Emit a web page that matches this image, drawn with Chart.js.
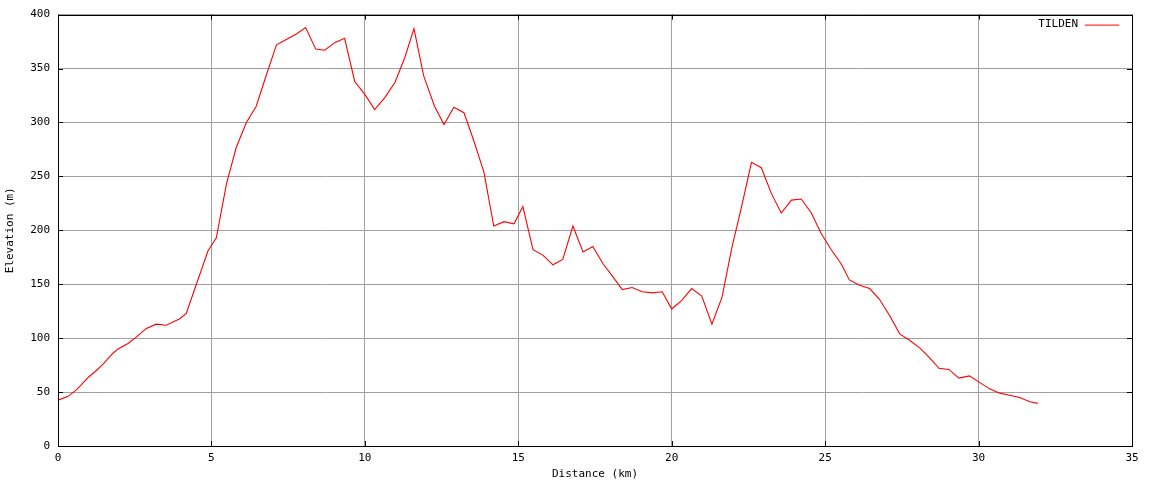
<!DOCTYPE html>
<html>
<head>
<meta charset="utf-8">
<script src="https://cdn.jsdelivr.net/npm/chart.js@4"></script>
<style>
  html, body { margin: 0; padding: 0; background: #fff; }
  #wrap { width: 1152px; height: 480px; }
</style>
</head>
<body>
<div id="wrap"><canvas id="elevChart" width="1152" height="480"></canvas></div>
<script>
// profile
const distance = [0, 0.33, 0.6, 1.0, 1.25, 1.47, 1.79, 1.96, 2.28, 2.55, 2.88, 3.2, 3.53, 3.97, 4.18, 4.51, 4.89,
  5.16, 5.49, 5.81, 6.14, 6.46, 6.79, 7.12, 7.44, 7.77, 8.07, 8.4, 8.69, 9.02, 9.34, 9.67, 10.0,
  10.32, 10.65, 10.98, 11.3, 11.6, 11.92, 12.27, 12.58, 12.9, 13.23, 13.55, 13.88, 14.2, 14.53, 14.86,
  15.15, 15.48, 15.8, 16.13, 16.45, 16.78, 17.11, 17.43, 17.76, 18.08, 18.39, 18.71, 19.04, 19.37, 19.69,
  20.0, 20.33, 20.65, 20.98, 21.31, 21.64, 21.96, 22.27, 22.6, 22.92, 23.25, 23.57, 23.9, 24.22, 24.55, 24.87,
  25.2, 25.52, 25.79, 26.12, 26.45, 26.77, 27.1, 27.43, 27.75, 28.08, 28.4, 28.71, 29.03, 29.36, 29.7,
  30.03, 30.36, 30.69, 31.01, 31.34, 31.67, 31.93];
const elevation = [42.5, 46, 52, 64, 70, 76, 86, 90, 95, 101, 109, 113, 112, 118, 123, 150, 181,
  193, 243, 277, 300, 315, 344, 372, 377, 382, 388, 368, 367, 374, 378, 338, 326,
  312, 323, 337, 360, 387, 343, 315, 298, 314, 309, 283, 254, 204, 208, 206,
  222, 182, 177, 168, 173, 204, 180, 185, 169, 157, 145, 147, 143, 142, 143,
  127, 135, 146, 139, 113, 138, 184, 221, 263, 258, 234, 216, 228, 229, 216, 197,
  182, 169, 154, 149, 146, 136, 121, 104, 98, 91, 82, 72, 71, 63, 65,
  59, 53, 49, 47, 45, 41, 39.5];
const seriesName = 'TILDEN';
const xTitle = 'Distance (km)';
const yTitle = 'Elevation (m)';

const FONT = '"DejaVu Sans Mono", monospace';

// gnuplot style ticks on the border + key in top right
const borderExtras = {
  id: 'borderExtras',
  afterDraw(chart) {
    const { ctx, chartArea: a, scales } = chart;
    ctx.save();
    ctx.strokeStyle = '#000';
    ctx.lineWidth = 1;
    ctx.beginPath();
    scales.y.ticks.forEach(t => {
      const py = Math.round(scales.y.getPixelForValue(t.value)) + 0.5;
      ctx.moveTo(a.left, py); ctx.lineTo(a.left + 5, py);
      ctx.moveTo(a.right, py); ctx.lineTo(a.right - 5, py);
    });
    scales.x.ticks.forEach(t => {
      const px = Math.round(scales.x.getPixelForValue(t.value)) + 0.5;
      ctx.moveTo(px, a.bottom); ctx.lineTo(px, a.bottom - 5);
      ctx.moveTo(px, a.top); ctx.lineTo(px, a.top + 5);
    });
    ctx.stroke();
    ctx.strokeRect(Math.round(a.left) + 0.5, Math.round(a.top) + 0.5,
      Math.round(a.right - a.left), Math.round(a.bottom - a.top));

    // key
    ctx.font = '11px ' + FONT;
    ctx.fillStyle = '#000';
    ctx.textAlign = 'right';
    ctx.textBaseline = 'middle';
    ctx.fillText(seriesName, a.right - 54, a.top + 10);
    ctx.strokeStyle = '#ff0000';
    ctx.beginPath();
    ctx.moveTo(a.right - 47, a.top + 10.5);
    ctx.lineTo(a.right - 13, a.top + 10.5);
    ctx.stroke();
    ctx.restore();
  }
};

new Chart(document.getElementById('elevChart'), {
  type: 'line',
  data: {
    datasets: [{
      label: seriesName,
      data: distance.map((d, i) => ({ x: d, y: elevation[i] })),
      borderColor: '#ff0000',
      borderWidth: 1.1,
      pointRadius: 0,
      tension: 0,
      fill: false
    }]
  },
  options: {
    responsive: false,
    animation: false,
    layout: { padding: { top: 13, right: 20, left: 0, bottom: 0 } },
    plugins: { legend: { display: false }, tooltip: { enabled: false } },
    scales: {
      x: {
        type: 'linear',
        min: 0, max: 35,
        afterFit: s => { s.height = 34; },
        border: { display: false },
        grid: { color: '#a0a0a0', drawTicks: false },
        ticks: { stepSize: 5, padding: 6, color: '#000', maxRotation: 0, font: { family: FONT, size: 11 } },
        title: { display: true, text: xTitle, color: '#000', padding: { top: 0, bottom: -1 }, font: { family: FONT, size: 11 } }
      },
      y: {
        min: 0, max: 400,
        afterFit: s => { s.width = 58; },
        border: { display: false },
        grid: { color: '#a0a0a0', drawTicks: false },
        ticks: { stepSize: 50, padding: 8, color: '#000', font: { family: FONT, size: 11 } },
        title: { display: true, text: yTitle, color: '#000', padding: { top: 4, bottom: 0 }, font: { family: FONT, size: 11 } }
      }
    }
  },
  plugins: [borderExtras]
});
</script>
</body>
</html>
